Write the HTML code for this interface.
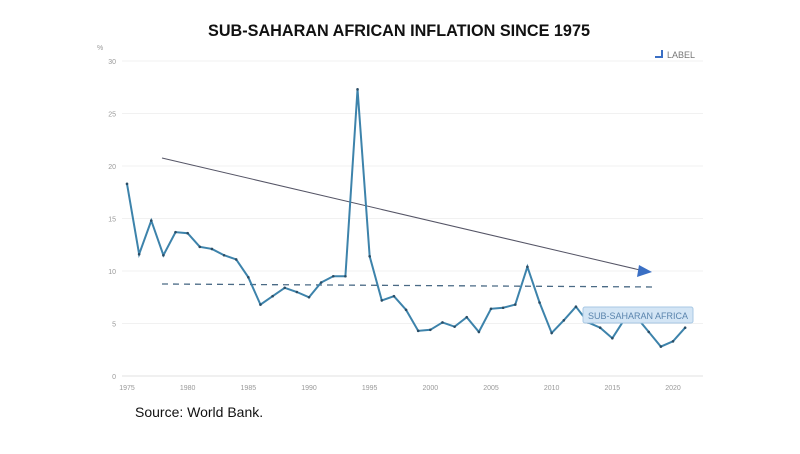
<!DOCTYPE html>
<html><head><meta charset="utf-8"><style>
body{margin:0;background:#fff;width:800px;height:449px;overflow:hidden;font-family:"Liberation Sans",sans-serif}
</style></head><body>
<svg width="800" height="449">
<text x="399" y="36" text-anchor="middle" font-size="16.5" font-weight="bold" fill="#111" textLength="382" lengthAdjust="spacingAndGlyphs">SUB-SAHARAN AFRICAN INFLATION SINCE 1975</text>
<g id="grid"></g><g id="ticks"></g>
<text x="97" y="50" font-size="7" fill="#999">%</text>
<g><path d="M655,57 h7 v-7" stroke="#3a6fc4" stroke-width="2" fill="none"/><text x="667" y="58" font-size="9" fill="#777">LABEL</text></g>
<line x1="162" y1="158" x2="640" y2="270" stroke="#556" stroke-width="1"/>
<polygon points="652,272 639,265 637,277" fill="#3a6fc4"/>
<line x1="162" y1="284" x2="657" y2="287" stroke="#4a6a85" stroke-width="1.3" stroke-dasharray="6,5"/>
<path id="series" fill="none" stroke="#3d83ab" stroke-width="2"/>
<g id="dots"></g>
<g><rect x="583" y="307" width="110" height="16" rx="2" fill="#d3e5f5" stroke="#a8c8e4"/><text x="638" y="319" text-anchor="middle" font-size="9" fill="#5a84ad">SUB-SAHARAN AFRICA</text></g>
<text x="135" y="417" font-size="14" fill="#111">Source: World Bank.</text>
</svg>
<script>
const years=[1975,1976,1977,1978,1979,1980,1981,1982,1983,1984,1985,1986,1987,1988,1989,1990,1991,1992,1993,1994,1995,1996,1997,1998,1999,2000,2001,2002,2003,2004,2005,2006,2007,2008,2009,2010,2011,2012,2013,2014,2015,2016,2017,2018,2019,2020,2021];
const inflation=[18.3,11.6,14.8,11.5,13.7,13.6,12.3,12.1,11.5,11.1,9.4,6.8,7.6,8.4,8.0,7.5,8.9,9.5,9.5,27.3,11.4,7.2,7.6,6.3,4.3,4.4,5.1,4.7,5.6,4.2,6.4,6.5,6.8,10.4,7.0,4.1,5.3,6.6,5.1,4.6,3.6,5.4,5.6,4.2,2.8,3.3,4.6];
const yTicks=[0,5,10,15,20,25,30];
const xTicks=[1975,1980,1985,1990,1995,2000,2005,2010,2015,2020];
const NS="http://www.w3.org/2000/svg";
const x=v=>127+(v-1975)*(673-127)/45;
const y=v=>376-v*10.5;
const grid=document.getElementById('grid'),ticks=document.getElementById('ticks');
yTicks.forEach(t=>{
 const l=document.createElementNS(NS,'line');
 
 
 l.setAttribute('x1',122);l.setAttribute('x2',703);l.setAttribute('y1',y(t));l.setAttribute('y2',y(t));
 l.setAttribute('stroke',t===0?'#e2e2e2':'#f1f1f1');grid.appendChild(l);
 const tx=document.createElementNS(NS,'text');
 
 
 tx.setAttribute('x',116);tx.setAttribute('y',y(t)+3);tx.setAttribute('text-anchor','end');
 tx.setAttribute('font-size','7');tx.setAttribute('fill','#999');tx.textContent=t;ticks.appendChild(tx);
});
xTicks.forEach(t=>{
 const tx=document.createElementNS(NS,'text');
 
 
 tx.setAttribute('x',x(t));tx.setAttribute('y',390);tx.setAttribute('text-anchor','middle');
 tx.setAttribute('font-size','7');tx.setAttribute('fill','#999');tx.textContent=t;ticks.appendChild(tx);
});
document.getElementById('series').setAttribute('d',years.map((yr,i)=>(i?'L':'M')+x(yr)+','+y(inflation[i])).join(''));
const dots=document.getElementById('dots');
years.forEach((yr,i)=>{
 const c=document.createElementNS(NS,'circle');
 
 
 c.setAttribute('cx',x(yr));c.setAttribute('cy',y(inflation[i]));c.setAttribute('r',1.3);c.setAttribute('fill','#2a4d66');dots.appendChild(c);
});
</script>
</body></html>
